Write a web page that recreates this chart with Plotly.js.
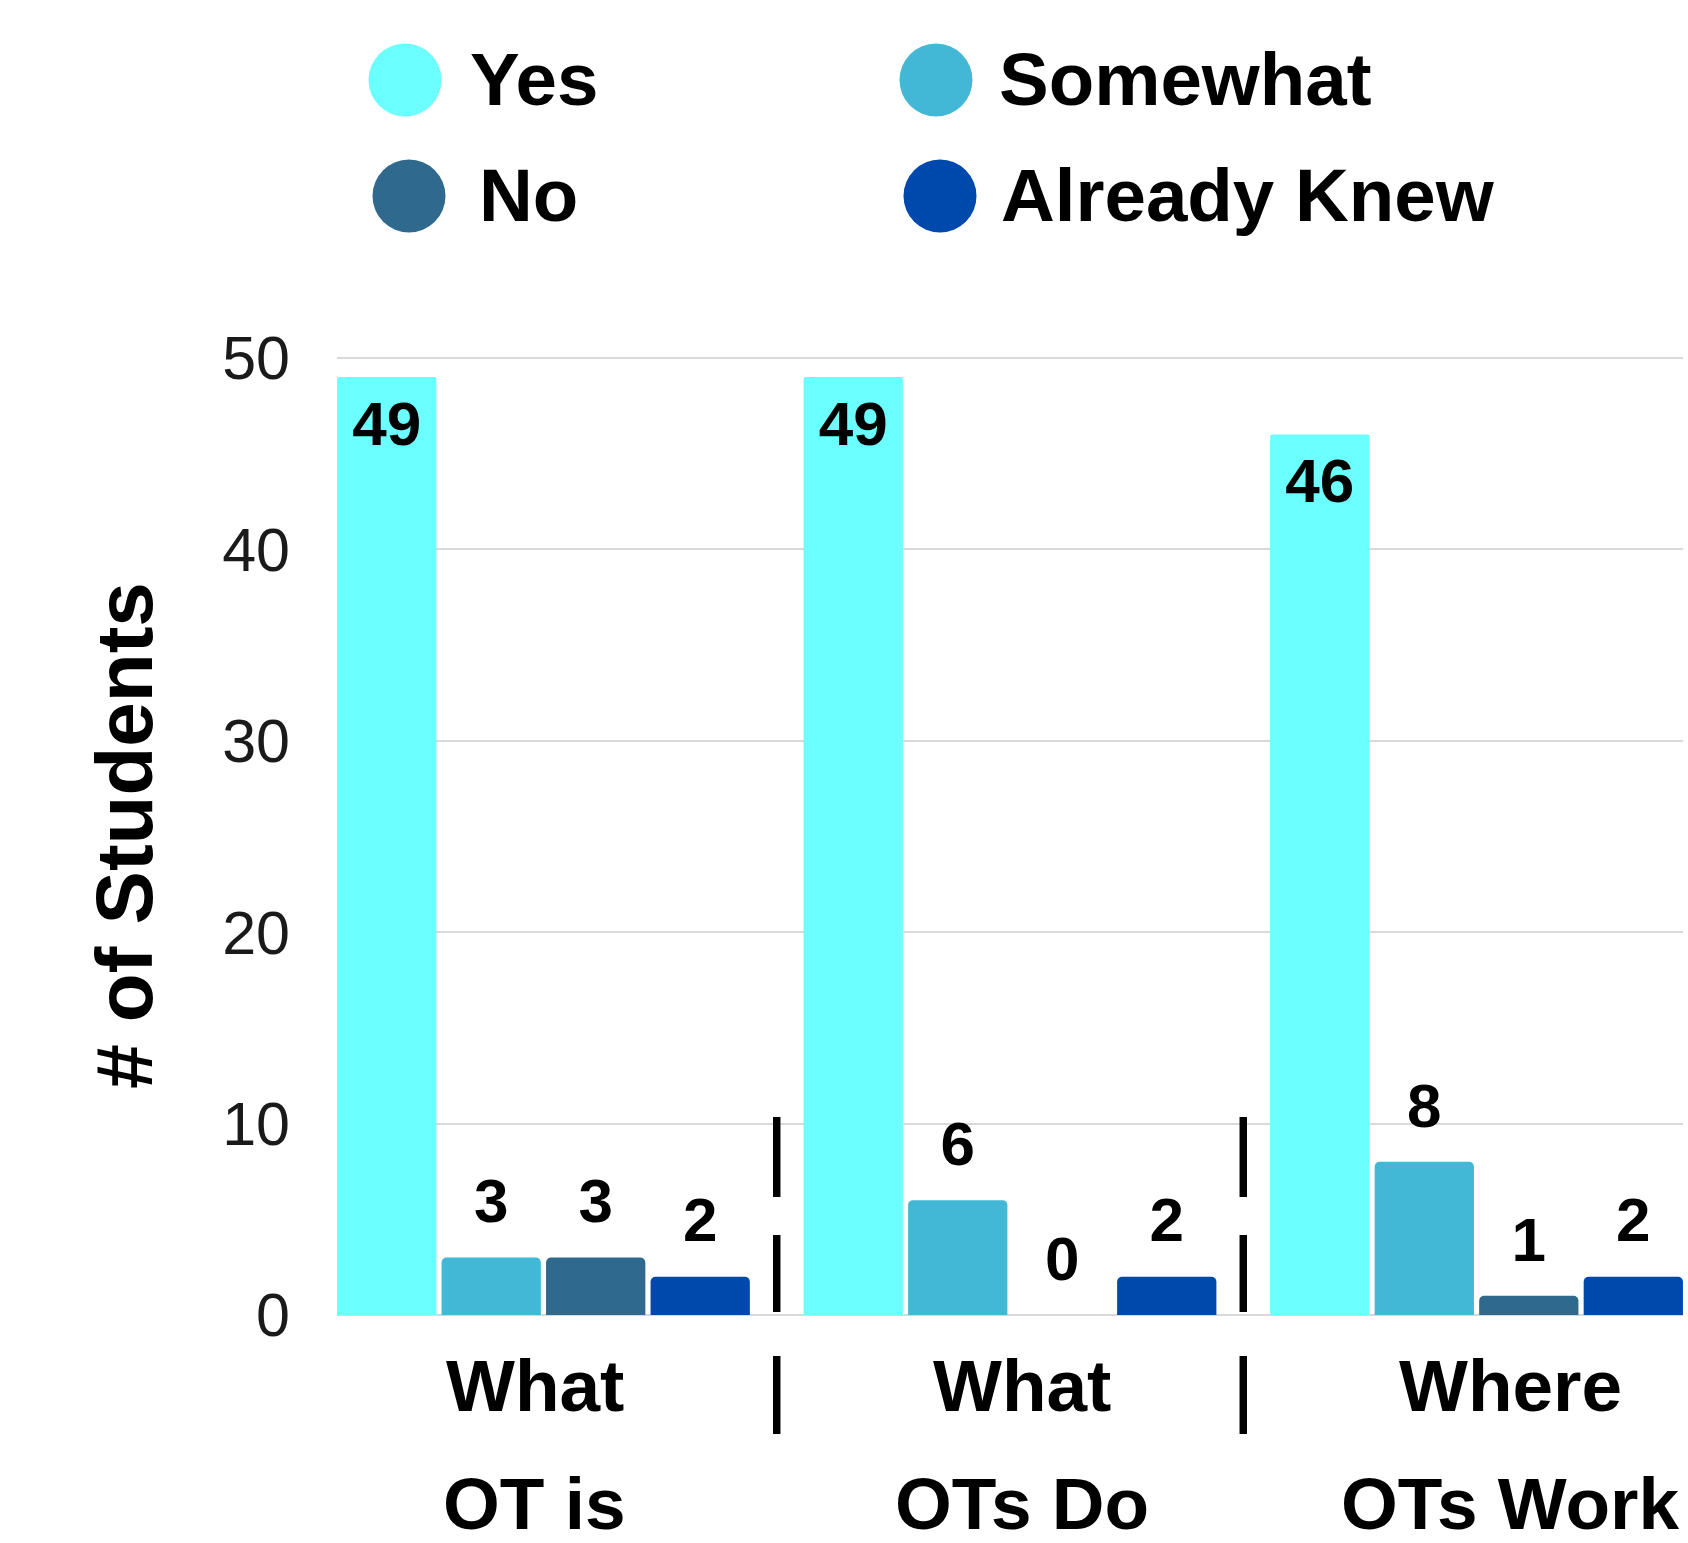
<!DOCTYPE html>
<html>
<head>
<meta charset="utf-8">
<script src="https://cdn.plot.ly/plotly-3.0.1.min.js"></script>
<style>
  html, body { margin: 0; padding: 0; background: #ffffff; }
  #chart { width: 1688px; height: 1543px; }
</style>
</head>
<body>
<div id="chart"></div>
<script>
// ---------- data ----------
const categories = ['What OT is', 'What OTs Do', 'Where OTs Work'];
const labelLine1 = ['What', 'What', 'Where'];
const labelLine2 = ['OT is', 'OTs Do', 'OTs Work'];
const seriesNames = ['Yes', 'Somewhat', 'No', 'Already Knew'];
const yesValues = [49, 49, 46];
const somewhatValues = [3, 6, 8];
const noValues = [3, 0, 1];
const alreadyKnewValues = [2, 2, 2];
const yTickValues = [0, 10, 20, 30, 40, 50];

// ---------- styles ----------
const seriesColors = ['#6BFFFF', '#43B7D6', '#2F6A8E', '#0049AC'];
const allValues = [yesValues, somewhatValues, noValues, alreadyKnewValues];
const FONT = 'Liberation Sans, Arial, Helvetica, sans-serif';

const W = 1688, H = 1543;
const M = { l: 337, r: 5, t: 356, b: 228 };
const plotW = W - M.l - M.r, plotH = H - M.t - M.b;
const px2paperX = px => (px - M.l) / plotW;
const px2paperY = py => (H - M.b - py) / plotH;

const traces = [];
// bars
allValues.forEach((vals, i) => {
  traces.push({
    type: 'bar',
    name: seriesNames[i],
    x: categories,
    y: vals,
    marker: { color: seriesColors[i], cornerradius: i === 0 ? 2 : 5 },
    hoverinfo: 'name+y',
    showlegend: false
  });
});
// value labels (scatter grouped with bars)
allValues.forEach((vals, i) => {
  const inside = (i === 0);
  traces.push({
    type: 'scatter',
    mode: 'markers+text',
    x: categories,
    y: vals,
    text: vals.map(String),
    textposition: inside ? 'bottom center' : 'top center',
    textfont: { family: FONT, size: 62, color: '#000000', weight: 'bold' },
    marker: { size: inside ? 32 : 30, color: 'rgba(0,0,0,0)' },
    cliponaxis: false,
    hoverinfo: 'skip',
    showlegend: false
  });
});

const shapes = [];
const annotations = [];

// group separators (dashed black)
const sepSegments = [[1117, 1197], [1235, 1312], [1356, 1434]];
[0.5, 1.5].forEach(xv => {
  sepSegments.forEach(seg => {
    shapes.push({
      type: 'line', xref: 'x', yref: 'paper',
      x0: xv, x1: xv, y0: px2paperY(seg[0]), y1: px2paperY(seg[1]),
      line: { color: '#000000', width: 7.5 }
    });
  });
});

// custom legend (large circles)
const legendPos = [
  { cx: 405, cy: 80, tx: 468 },
  { cx: 936, cy: 80, tx: 997 },
  { cx: 409, cy: 196, tx: 477 },
  { cx: 940, cy: 196, tx: 999 }
];
seriesNames.forEach((nm, i) => {
  const p = legendPos[i];
  shapes.push({
    type: 'circle', xref: 'paper', yref: 'paper',
    xsizemode: 'pixel', ysizemode: 'pixel',
    xanchor: px2paperX(p.cx), yanchor: px2paperY(p.cy),
    x0: -36.5, x1: 36.5, y0: -36.5, y1: 36.5,
    fillcolor: seriesColors[i], line: { width: 0 }
  });
  annotations.push({
    xref: 'paper', yref: 'paper',
    x: px2paperX(p.tx), y: px2paperY(p.cy),
    xanchor: 'left', yanchor: 'middle',
    text: nm, showarrow: false,
    font: { family: FONT, size: 74.5, color: '#000000', weight: 'bold' }
  });
});

// category labels (two lines)
const labelStartX = 534.5, labelStepX = 487.75;
categories.forEach((c, i) => {
  const cx = px2paperX(labelStartX + i * labelStepX);
  annotations.push({
    xref: 'paper', yref: 'paper', x: cx, y: px2paperY(1385),
    xanchor: 'center', yanchor: 'middle', showarrow: false,
    text: labelLine1[i],
    font: { family: FONT, size: 73, color: '#000000', weight: 'bold' }
  });
  annotations.push({
    xref: 'paper', yref: 'paper', x: cx, y: px2paperY(1503),
    xanchor: 'center', yanchor: 'middle', showarrow: false,
    text: labelLine2[i],
    font: { family: FONT, size: 73, color: '#000000', weight: 'bold' }
  });
});

const layout = {
  width: W, height: H,
  margin: M,
  paper_bgcolor: '#ffffff', plot_bgcolor: '#ffffff',
  showlegend: false,
  barmode: 'group',
  bargap: 0.104,
  bargroupgap: 0.05,
  scattermode: 'group',
  scattergap: 0.104,
  font: { family: FONT, color: '#000000' },
  xaxis: {
    type: 'category',
    range: [-0.4425, 2.4425],
    showticklabels: false,
    showgrid: false, zeroline: false, showline: false, ticks: ''
  },
  yaxis: {
    range: [0, 50.1],
    tickmode: 'array',
    tickvals: yTickValues,
    ticktext: yTickValues.map(String),
    tickfont: { family: FONT, size: 61, color: '#1a1a1a' },
    ticks: '',
    ticklabelstandoff: 46,
    showgrid: true, gridcolor: '#d9d9d9', gridwidth: 2,
    zeroline: true, zerolinecolor: '#d9d9d9', zerolinewidth: 2,
    showline: false,
    title: {
      text: '# of Students',
      font: { family: FONT, size: 80, color: '#000000', weight: 'bold' },
      standoff: 43
    }
  },
  shapes: shapes,
  annotations: annotations
};

Plotly.newPlot('chart', traces, layout, { staticPlot: true, displayModeBar: false });
</script>
</body>
</html>
